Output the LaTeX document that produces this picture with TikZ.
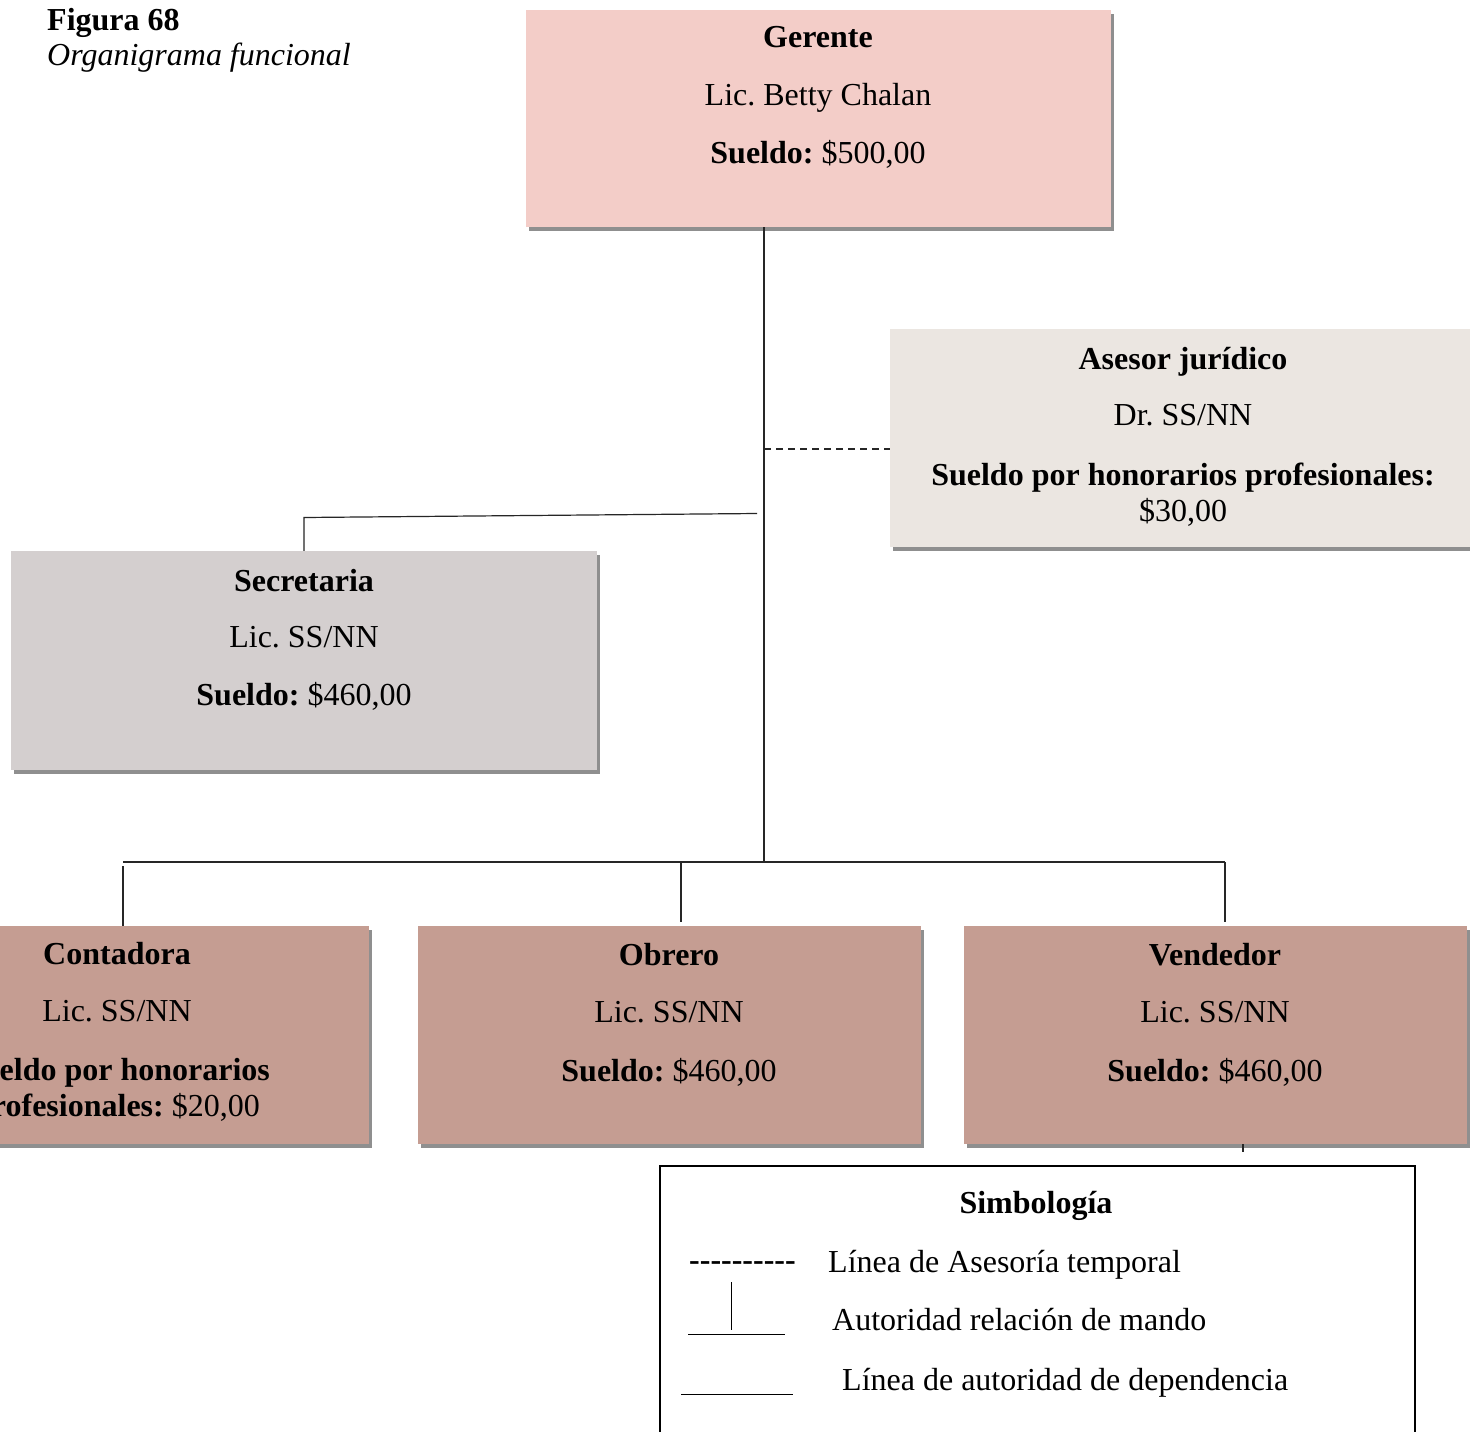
\documentclass[tikz,border=0pt]{standalone}
\usepackage{fontspec}
\setmainfont{Liberation Serif}
\usetikzlibrary{shadows}
\frenchspacing
\definecolor{cGer}{HTML}{F3CDC8}
\definecolor{cAse}{HTML}{EBE6E1}
\definecolor{cSec}{HTML}{D4CFCF}
\definecolor{cBot}{HTML}{C59D92}
\newcommand{\hyph}{\hbox{-}}
\tikzset{
  orgbox/.style={draw=none, inner sep=0pt, minimum width=585pt, minimum height=217pt,
    drop shadow={shadow xshift=2.5pt, shadow yshift=-3.5pt, opacity=0.55, fill=black!80}},
  botbox/.style={orgbox, fill=cBot, minimum width=503pt, minimum height=218pt},
  txt/.style={align=center, inner sep=0pt, font=\fontsize{32}{36}\selectfont},
  ltxt/.style={inner sep=0pt, font=\fontsize{32}{36}\selectfont},
  conn/.style={line width=1.2pt, black!85},
  thinl/.style={line width=1pt, black}
}
\begin{document}
\begin{tikzpicture}[x=1pt,y=-1pt]
\useasboundingbox (0,0) rectangle (1470,1432);
\clip (0,0) rectangle (1470,1432);
\fill[white] (0,0) rectangle (1470,1432);

% title
\node[ltxt, anchor=base west] (fig) at (47,30) {\bfseries Figura 68};
\node[ltxt, anchor=base west] (cap) at (47,65) {\itshape Organigrama funcional};

% named points
\coordinate (trunkbot) at (764,862);
\coordinate (dashend) at (890,449);
\coordinate (secj) at (757,513.5);
\coordinate (busL) at (123,862);
\coordinate (busR) at (1225,862);
\coordinate (busM) at (681,862);

% boxes
\node[orgbox, fill=cGer] (ger) at (818.5,118.5) {};
\node[orgbox, fill=cAse, minimum width=586pt, minimum height=218pt] (ase) at (1183,438) {};
\node[orgbox, fill=cSec, minimum width=586pt, minimum height=219pt] (sec) at (304,660.5) {};
\node[botbox] (con) at (117.5,1035) {};
\node[botbox] (obr) at (669.5,1035) {};
\node[botbox] (ven) at (1215.5,1035) {};

% lines
\draw[conn] (ger.south -| trunkbot) -- (trunkbot);
\draw[conn, dash pattern=on 7pt off 5pt] (dashend -| trunkbot) -- (dashend);
\draw[conn] (secj) -- (sec.north |- 0,517.5) -- (sec.north);
\draw[conn] (busL) -- (busR);
\draw[conn] ([yshift=-4pt]busL) -- (busL |- con.north);
\draw[conn] (busM) -- ([yshift=4pt]busM |- obr.north);
\draw[conn] (busR) -- ([yshift=4pt]busR |- ven.north);
\coordinate (tick) at (1243,1152);
\draw[conn] (tick |- ven.south) -- (tick);

% texts
\node[txt] (gert) at (818,97.5) {{\bfseries Gerente}\\[22pt]Lic. Betty Chalan\\[22pt]{\bfseries Sueldo:} \$500,00};
\node[txt] (aset) at (1183,437) {{\bfseries Asesor jurídico}\\[20pt]Dr. SS/NN\\[24pt]{\bfseries Sueldo por honorarios profesionales:}\\\$30,00};
\node[txt] (sect) at (304,639.5) {{\bfseries Secretaria}\\[20pt]Lic. SS/NN\\[22pt]{\bfseries Sueldo:} \$460,00};
\node[txt] (cont) at (117,1033) {{\bfseries Contadora}\\[21pt]Lic. SS/NN\\[23pt]{\bfseries Sueldo por honorarios}\\{\bfseries profesionales:} \$20,00};
\node[txt] (obrt) at (669,1014.5) {{\bfseries Obrero}\\[21pt]Lic. SS/NN\\[23pt]{\bfseries Sueldo:} \$460,00};
\node[txt] (vent) at (1215,1014.5) {{\bfseries Vendedor}\\[21pt]Lic. SS/NN\\[23pt]{\bfseries Sueldo:} \$460,00};

% legend
\draw[line width=2.4pt] (660,1445) -- (660,1166) -- (1415,1166) -- (1415,1445);
\node[ltxt, anchor=base] (simb) at (1036,1213) {\bfseries Simbología};
\node[ltxt, anchor=base west] (ldash) at (689,1270) {\bfseries\hyph\hyph\hyph\hyph\hyph\hyph\hyph\hyph\hyph\hyph};
\node[ltxt, anchor=base west] (l1) at (828,1272) {Línea de Asesoría temporal};
\coordinate (lv) at (731,1282);
\draw[thinl] (lv) -- (731,1330);
\coordinate (lh1) at (688,1334);
\draw[thinl] (lh1) -- (785,1334);
\node[ltxt, anchor=base west] (l2) at (832,1330) {Autoridad relación de mando};
\coordinate (lh2) at (681,1394);
\draw[thinl] (lh2) -- (793,1394);
\node[ltxt, anchor=base west] (l3) at (842,1390) {Línea de autoridad de dependencia};
\end{tikzpicture}
\end{document}
